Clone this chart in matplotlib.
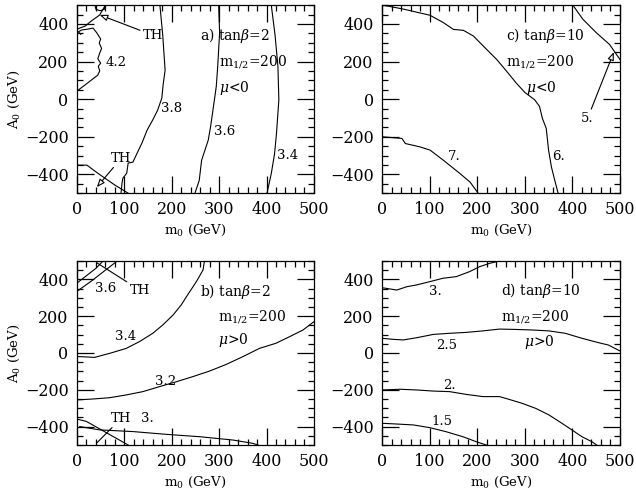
import matplotlib
matplotlib.use("Agg")
import matplotlib.pyplot as plt
from matplotlib.ticker import MultipleLocator

plt.rcParams['font.family'] = ['DejaVu Serif']
plt.rcParams['mathtext.fontset'] = 'dejavuserif'

# ---------------- panel a) tan(beta)=2, mu<0 ----------------
a_c34_x = [410, 418, 424, 426, 421, 417, 410, 401]
a_c34_y = [500, 340, 175, -4, -182, -289, -396, -500]
a_c36_x = [299, 301, 297, 294, 290, 282, 277, 263, 258, 249]
a_c36_y = [500, 354, 175, 68, -4, -146, -218, -325, -432, -500]
a_c38_x = [175, 181, 186, 182, 179, 170, 160, 148, 137, 127, 118, 108, 105, 97, 95, 93]
a_c38_y = [500, 340, 154, 80, 5, -60, -110, -165, -234, -287, -335, -340, -394, -420, -447, -500]
a_c42_x = [0, 22, 44, 48, 45, 50, 44, 48, 52, 47, 50, 42, 34, 22, 10, 3, 8]
a_c42_y = [43, 85, 128, 150, 175, 191, 215, 245, 270, 298, 320, 352, 378, 372, 368, 358, 345]
a_th1_x = [38, 40, 49, 58, 59]
a_th1_y = [500, 478, 470, 478, 500]
a_th2_x = [60, 48, 30, 17, 8, 0]
a_th2_y = [500, 448, 415, 388, 380, 372]
a_th3_x = [0, 21, 44, 80, 108]
a_th3_y = [-351, -351, -394, -457, -500]

# ---------------- panel c) tan(beta)=10, mu<0 ----------------
c_c6_x = [0, 10, 45, 101, 129, 150, 171, 192, 213, 241, 262, 282, 300, 321, 331, 337, 345, 347, 350, 356, 363, 370]
c_c6_y = [500, 496, 479, 446, 407, 371, 366, 336, 282, 211, 148, 86, 36, -4, -39, -102, -155, -200, -271, -361, -432, -500]
c_c7_x = [0, 42, 49, 80, 101, 129, 164, 185, 202]
c_c7_y = [-200, -209, -236, -254, -271, -325, -396, -441, -500]
c_c5_x = [401, 422, 450, 478, 500]
c_c5_y = [500, 425, 354, 291, 211]

# ---------------- panel b) tan(beta)=2, mu>0 ----------------
b_c34_x = [0, 9, 37, 69, 104, 132, 160, 181, 203, 220, 231, 252, 266, 269]
b_c34_y = [-20, -20, -24, -2, 25, 62, 107, 152, 207, 261, 306, 388, 451, 500]
b_c32_x = [0, 34, 69, 104, 139, 174, 210, 245, 280, 315, 350, 385, 420, 449, 477, 500]
b_c32_y = [-255, -250, -243, -228, -210, -183, -156, -128, -98, -62, -20, 25, 53, 89, 125, 170]
b_c30_x = [6, 48, 118, 188, 259, 329, 371, 382]
b_c30_y = [-400, -418, -427, -442, -455, -473, -491, -500]
b_c36_x = [0, 30, 55, 75, 85]
b_c36_y = [335, 390, 440, 480, 500]
b_th1_x = [0, 20, 40, 55]
b_th1_y = [380, 420, 460, 500]
b_th2_x = [0, 20, 108]
b_th2_y = [-359, -372, -500]

# ---------------- panel d) tan(beta)=10, mu>0 ----------------
d_c30_x = [0, 31, 52, 73, 101, 128, 156, 184, 205, 226, 247]
d_c30_y = [355, 342, 360, 370, 388, 406, 415, 442, 469, 487, 500]
d_c25_x = [0, 24, 45, 73, 108, 142, 177, 212, 247, 281, 316, 351, 385, 420, 455, 476, 500]
d_c25_y = [80, 74, 71, 83, 101, 107, 112, 120, 130, 128, 125, 120, 107, 80, 56, 43, 11]
d_c20_x = [0, 38, 73, 108, 142, 177, 212, 247, 267, 295, 323, 351, 378, 399, 420, 441, 451]
d_c20_y = [-201, -197, -201, -207, -210, -225, -237, -237, -252, -274, -301, -337, -382, -418, -455, -482, -500]
d_c15_x = [0, 31, 66, 101, 135, 170, 198, 219]
d_c15_y = [-382, -386, -391, -406, -428, -455, -482, -500]

x_ticks = [0, 100, 200, 300, 400, 500]
y_ticks = [-400, -200, 0, 200, 400]

fig = plt.figure(figsize=(6.36, 4.94), dpi=100)
pos = {
    'a': [0.121, 0.609, 0.3726, 0.3806],
    'c': [0.6006, 0.609, 0.3742, 0.3806],
    'b': [0.121, 0.0992, 0.3726, 0.3725],
    'd': [0.6006, 0.0992, 0.3742, 0.3725],
}
axs = {}
for k, p in pos.items():
    ax = fig.add_axes(p)
    ax.set_xlim(0, 500)
    ax.set_ylim(-500, 500)
    ax.set_xticks(x_ticks)
    ax.set_yticks(y_ticks)
    ax.xaxis.set_minor_locator(MultipleLocator(20))
    ax.yaxis.set_minor_locator(MultipleLocator(50))
    ax.tick_params(which='both', direction='in', top=True, right=True, width=0.9, labelsize=11.5, pad=6)
    ax.tick_params(which='major', length=12)
    ax.tick_params(which='minor', length=4)
    for s in ax.spines.values():
        s.set_linewidth(0.9)
    ax.set_xlabel(r'm$_0$ (GeV)', fontsize=9.5, labelpad=3)
    if k in ('a', 'b'):
        ax.set_ylabel(r'A$_0$ (GeV)', fontsize=9.5, labelpad=2)
    axs[k] = ax

lw = 0.8
fs = 9.5
tfs = 10

ax = axs['a']
for xs, ys in [(a_c34_x, a_c34_y), (a_c36_x, a_c36_y), (a_c38_x, a_c38_y), (a_c42_x, a_c42_y),
               (a_th1_x, a_th1_y), (a_th2_x, a_th2_y), (a_th3_x, a_th3_y)]:
    ax.plot(xs, ys, color='black', lw=lw)
ax.text(260, 336, r'a) tan$\beta$=2', fontsize=tfs, va='center')
ax.text(299, 202, r'm$_{1/2}$=200', fontsize=tfs, va='center')
ax.text(299, 59, r'$\mu$<0', fontsize=tfs, va='center')
ax.text(200, -48, '3.8', fontsize=fs, ha='center', va='center')
ax.text(311, -173, '3.6', fontsize=fs, ha='center', va='center')
ax.text(445, -298, '3.4', fontsize=fs, ha='center', va='center')
ax.text(82, 193, '4.2', fontsize=fs, ha='center', va='center')
arr = dict(arrowstyle='-|>,head_length=0.5,head_width=0.2', fc='white', ec='black', lw=lw, shrinkA=0, shrinkB=0)
ax.annotate('TH', xy=(48, 448), xytext=(139, 340), fontsize=fs, va='center', arrowprops=arr)
ax.annotate('TH', xy=(42, -468), xytext=(72, -314), fontsize=fs, va='center', arrowprops=arr)

ax = axs['c']
for xs, ys in [(c_c6_x, c_c6_y), (c_c7_x, c_c7_y), (c_c5_x, c_c5_y)]:
    ax.plot(xs, ys, color='black', lw=lw)
ax.text(261, 336, r'c) tan$\beta$=10', fontsize=tfs, va='center')
ax.text(261, 202, r'm$_{1/2}$=200', fontsize=tfs, va='center')
ax.text(302, 59, r'$\mu$<0', fontsize=tfs, va='center')
ax.text(152, -307, '7.', fontsize=fs, ha='center', va='center')
ax.text(370, -307, '6.', fontsize=fs, ha='center', va='center')
ax.annotate('5.', xy=(487, 250), xytext=(432, -102), fontsize=fs, ha='center', va='center', arrowprops=arr)

ax = axs['b']
for xs, ys in [(b_c34_x, b_c34_y), (b_c32_x, b_c32_y), (b_c30_x, b_c30_y), (b_c36_x, b_c36_y),
               (b_th1_x, b_th1_y), (b_th2_x, b_th2_y)]:
    ax.plot(xs, ys, color='black', lw=lw)
ax.text(259, 334, r'b) tan$\beta$=2', fontsize=tfs, va='center')
ax.text(297, 197, r'm$_{1/2}$=200', fontsize=tfs, va='center')
ax.text(297, 71, r'$\mu$>0', fontsize=tfs, va='center')
ax.text(102, 89, '3.4', fontsize=fs, ha='center', va='center')
ax.text(187, -156, '3.2', fontsize=fs, ha='center', va='center')
ax.text(148, -355, '3.', fontsize=fs, ha='center', va='center')
ax.text(60, 351, '3.6', fontsize=fs, ha='center', va='center')
ax.annotate('TH', xy=(42, 490), xytext=(111, 342), fontsize=fs, va='center', arrowprops=dict(arrowstyle='-', lw=lw, shrinkA=0, shrinkB=0))
ax.annotate('TH', xy=(41, -491), xytext=(72, -355), fontsize=fs, va='center', arrowprops=dict(arrowstyle='-', lw=lw, shrinkA=0, shrinkB=0))

ax = axs['d']
for xs, ys in [(d_c30_x, d_c30_y), (d_c25_x, d_c25_y), (d_c20_x, d_c20_y), (d_c15_x, d_c15_y)]:
    ax.plot(xs, ys, color='black', lw=lw)
ax.text(250, 342, r'd) tan$\beta$=10', fontsize=tfs, va='center')
ax.text(250, 197, r'm$_{1/2}$=200', fontsize=tfs, va='center')
ax.text(299, 62, r'$\mu$>0', fontsize=tfs, va='center')
ax.text(112, 335, '3.', fontsize=fs, ha='center', va='center')
ax.text(135, 43, '2.5', fontsize=fs, ha='center', va='center')
ax.text(142, -174, '2.', fontsize=fs, ha='center', va='center')
ax.text(125, -373, '1.5', fontsize=fs, ha='center', va='center')

fig.savefig('out.png', dpi=100)
